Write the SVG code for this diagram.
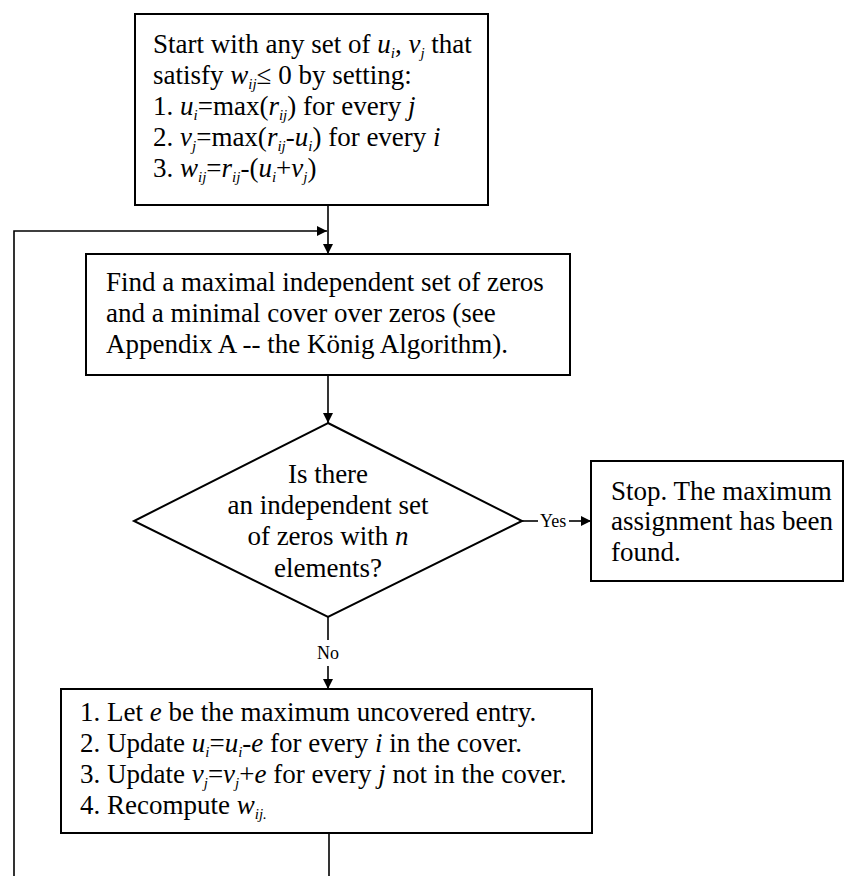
<svg xmlns="http://www.w3.org/2000/svg" width="845" height="876" viewBox="0 0 845 876">
  <style>
    .box { fill: #fff; stroke: #000; stroke-width: 2; }
    .wire { fill: none; stroke: #000; stroke-width: 1.6; }
    text { font-family: "Liberation Serif", "Times New Roman", serif; font-size: 27px; fill: #000; }
    .lbl { font-size: 18px; }
    .v { font-style: italic; }
    .s { font-style: italic; font-size: 15px; }
  </style>
  <defs>
    <marker id="head" viewBox="0 0 10 10" refX="10" refY="5" markerWidth="10" markerHeight="10" markerUnits="userSpaceOnUse" orient="auto">
      <path d="M0,0 L10,5 L0,10 Z" fill="#000"/>
    </marker>
  </defs>
  <rect width="845" height="876" fill="#fff"/>

  <g id="connectors">
    <path class="wire" d="M328,205 V254" marker-end="url(#head)"/>
    <path class="wire" d="M14,876 V231 H327" marker-end="url(#head)"/>
    <path class="wire" d="M328,375 V423" marker-end="url(#head)"/>
    <path class="wire" d="M522,521 H538"/>
    <text class="lbl" x="540" y="527">Yes</text>
    <path class="wire" d="M569,521 H591" marker-end="url(#head)"/>
    <path class="wire" d="M328,617 V640"/>
    <text class="lbl" x="328" y="659" text-anchor="middle">No</text>
    <path class="wire" d="M328,666 V689" marker-end="url(#head)"/>
    <path class="wire" d="M329,833 V876"/>
  </g>

  <g id="init">
    <rect class="box" x="135" y="14" width="353" height="191"/>
    <text x="153" y="53">Start with any set of <tspan class="v">u</tspan><tspan class="s" dy="5">i</tspan><tspan dy="-5">, </tspan><tspan class="v">v</tspan><tspan class="s" dy="5">j</tspan><tspan dy="-5"> that</tspan></text>
    <text x="153" y="84">satisfy <tspan class="v">w</tspan><tspan class="s" dy="5">ij</tspan><tspan dy="-5">≤ 0 by setting:</tspan></text>
    <text x="153" y="115">1. <tspan class="v">u</tspan><tspan class="s" dy="5">i</tspan><tspan dy="-5">=max(</tspan><tspan class="v">r</tspan><tspan class="s" dy="5">ij</tspan><tspan dy="-5">) for every </tspan><tspan class="v">j</tspan></text>
    <text x="153" y="146">2. <tspan class="v">v</tspan><tspan class="s" dy="5">j</tspan><tspan dy="-5">=max(</tspan><tspan class="v">r</tspan><tspan class="s" dy="5">ij</tspan><tspan dy="-5">-</tspan><tspan class="v">u</tspan><tspan class="s" dy="5">i</tspan><tspan dy="-5">) for every </tspan><tspan class="v">i</tspan></text>
    <text x="153" y="177">3. <tspan class="v">w</tspan><tspan class="s" dy="5">ij</tspan><tspan dy="-5">=</tspan><tspan class="v">r</tspan><tspan class="s" dy="5">ij</tspan><tspan dy="-5">-(</tspan><tspan class="v">u</tspan><tspan class="s" dy="5">i</tspan><tspan dy="-5">+</tspan><tspan class="v">v</tspan><tspan class="s" dy="5">j</tspan><tspan dy="-5">)</tspan></text>
  </g>

  <g id="find">
    <rect class="box" x="86" y="254" width="484" height="121"/>
    <text x="106" y="291">Find a maximal independent set of zeros</text>
    <text x="106" y="322">and a minimal cover over zeros (see</text>
    <text x="106" y="353">Appendix A -- the König Algorithm).</text>
  </g>

  <g id="decide">
    <path class="box" d="M328,423 L522,521 L328,617 L134,521 Z"/>
    <text x="328" y="483" text-anchor="middle">Is there</text>
    <text x="328" y="514" text-anchor="middle">an independent set</text>
    <text x="328" y="545" text-anchor="middle">of zeros with <tspan class="v">n</tspan></text>
    <text x="328" y="577" text-anchor="middle">elements?</text>
  </g>

  <g id="stop">
    <rect class="box" x="591" y="461" width="252" height="120"/>
    <text x="611" y="500">Stop. The maximum</text>
    <text x="611" y="530">assignment has been</text>
    <text x="611" y="561">found.</text>
  </g>

  <g id="update">
    <rect class="box" x="61" y="689" width="531" height="144"/>
    <text x="80" y="721">1. Let <tspan class="v">e</tspan> be the maximum uncovered entry.</text>
    <text x="80" y="752">2. Update <tspan class="v">u</tspan><tspan class="s" dy="5">i</tspan><tspan dy="-5">=</tspan><tspan class="v">u</tspan><tspan class="s" dy="5">i</tspan><tspan dy="-5">-</tspan><tspan class="v">e</tspan> for every <tspan class="v">i</tspan> in the cover.</text>
    <text x="80" y="783">3. Update <tspan class="v">v</tspan><tspan class="s" dy="5">j</tspan><tspan dy="-5">=</tspan><tspan class="v">v</tspan><tspan class="s" dy="5">j</tspan><tspan dy="-5">+</tspan><tspan class="v">e</tspan> for every <tspan class="v">j</tspan> not in the cover.</text>
    <text x="80" y="814">4. Recompute <tspan class="v">w</tspan><tspan class="s" dy="5">ij.</tspan></text>
  </g>
</svg>
